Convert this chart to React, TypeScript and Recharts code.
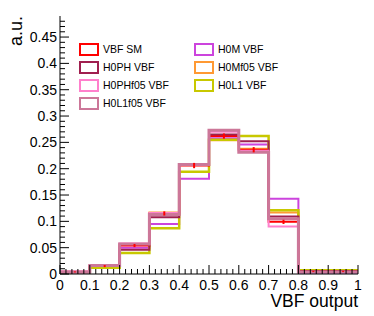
import {
  ComposedChart,
  ErrorBar,
  Line,
  Scatter,
  XAxis,
  YAxis,
} from "recharts";

const binEdges = [0, 0.1, 0.2, 0.3, 0.4, 0.5, 0.6, 0.7, 0.8, 0.9, 1.0];
const binCenters = [0.05, 0.15, 0.25, 0.35, 0.45, 0.55, 0.65, 0.75, 0.85, 0.95];

const vbfSM = [0.004, 0.015, 0.054, 0.115, 0.206, 0.262, 0.236, 0.099, 0.005, 0.005];
const vbfSMErr = [0.001, 0.002, 0.003, 0.004, 0.005, 0.005, 0.005, 0.004, 0.001, 0.001];
const h0ph = [0.004, 0.015, 0.046, 0.108, 0.207, 0.265, 0.252, 0.109, 0.005, 0.005];
const h0phf05 = [0.005, 0.017, 0.058, 0.116, 0.208, 0.27, 0.234, 0.09, 0.004, 0.004];
const h0l1f05 = [0.004, 0.016, 0.057, 0.113, 0.208, 0.273, 0.231, 0.105, 0.004, 0.004];
const h0m = [0.003, 0.014, 0.05, 0.095, 0.181, 0.258, 0.246, 0.143, 0.003, 0.003];
const h0mf05 = [0.004, 0.015, 0.055, 0.117, 0.207, 0.254, 0.238, 0.117, 0.005, 0.005];
const h0l1 = [0.004, 0.012, 0.04, 0.087, 0.194, 0.255, 0.262, 0.121, 0.007, 0.007];

const xTicks = Array.from({ length: 51 }, (_, i) => +(i * 0.02).toFixed(2));
const yTicks = Array.from({ length: 49 }, (_, i) => +(i * 0.01).toFixed(2));

// draw order: last one ends up on top
const series = [
  { key: "h0m", name: "H0M VBF", values: h0m, color: "#cc44dd", width: 2 },
  { key: "h0mf05", name: "H0Mf05 VBF", values: h0mf05, color: "#ff9933", width: 2 },
  { key: "h0l1", name: "H0L1 VBF", values: h0l1, color: "#c8c800", width: 2.5 },
  { key: "vbfSM", name: "VBF SM", values: vbfSM, color: "#ff0000", width: 2 },
  { key: "h0ph", name: "H0PH VBF", values: h0ph, color: "#a01f4f", width: 2 },
  { key: "h0phf05", name: "H0PHf05 VBF", values: h0phf05, color: "#ff80cc", width: 2 },
  { key: "h0l1f05", name: "H0L1f05 VBF", values: h0l1f05, color: "#cc7799", width: 3 },
];

const legendCols = [
  ["vbfSM", "h0ph", "h0phf05", "h0l1f05"],
  ["h0m", "h0mf05", "h0l1"],
];

const table = binEdges.map((x, i) => {
  const row: Record<string, number> = { x };
  series.forEach((s) => {
    row[s.key] = s.values[Math.min(i, s.values.length - 1)];
  });
  return row;
});

const errPoints = binCenters.map((x, i) => ({ x, y: vbfSM[i], err: vbfSMErr[i] }));

const FONT = '"Liberation Sans", Arial, Helvetica, sans-serif';

const fmt = (v: number) => String(+v.toFixed(2));

function makeTick(side: string, majorStep: number) {
  return (props: any) => {
    const { x, y, payload } = props;
    const v = payload.value;
    const r = v / majorStep;
    const major = Math.abs(r - Math.round(r)) < 1e-6;
    const len = major ? 9 : 5;
    if (side === "left") {
      return (
        <g>
          <line x1={x + 3} x2={x + 3 + len} y1={y} y2={y} stroke="#000" />
          {major && (
            <text x={x} y={y} dy="0.36em" textAnchor="end" fontSize={14} fontFamily={FONT} fill="#000">
              {fmt(v)}
            </text>
          )}
        </g>
      );
    }
    if (side === "bottom") {
      return (
        <g>
          <line x1={x} x2={x} y1={y - 6} y2={y - 6 - len} stroke="#000" />
          {major && (
            <text x={x} y={y} dy="0.7em" textAnchor="middle" fontSize={14} fontFamily={FONT} fill="#000">
              {fmt(v)}
            </text>
          )}
        </g>
      );
    }
    if (side === "top") {
      return <line x1={x} x2={x} y1={y} y2={y + len} stroke="#000" />;
    }
    return <line x1={x} x2={x - len} y1={y} y2={y} stroke="#000" />;
  };
}

export default function App() {
  const byKey: Record<string, (typeof series)[number]> = {};
  series.forEach((s) => (byKey[s.key] = s));

  return (
    <div style={{ position: "absolute", left: 0, top: 0, width: 374, height: 316, background: "#fff" }}>
      <ComposedChart
        width={374}
        height={316}
        data={table}
        margin={{ top: 16, right: 16, left: 0, bottom: 0 }}
      >
        <XAxis
          dataKey="x"
          type="number"
          domain={[0, 1]}
          ticks={xTicks}
          interval={0}
          tickSize={0}
          tickMargin={6}
          height={42}
          allowDataOverflow
          axisLine={{ stroke: "#000" }}
          tick={makeTick("bottom", 0.1)}
          label={({ viewBox }: any) => (
            <text
              x={viewBox.x + viewBox.width}
              y={viewBox.y + 33}
              textAnchor="end"
              fontSize={17.5}
              fontFamily={FONT}
              fill="#000"
            >
              VBF output
            </text>
          )}
        />
        <XAxis
          xAxisId="top"
          orientation="top"
          type="number"
          domain={[0, 1]}
          ticks={xTicks}
          interval={0}
          tickSize={0}
          tickMargin={0}
          height={0}
          allowDataOverflow
          axisLine={{ stroke: "#000" }}
          tick={makeTick("top", 0.1)}
        />
        <YAxis
          type="number"
          domain={[0, 0.49]}
          ticks={yTicks}
          interval={0}
          tickSize={0}
          tickMargin={3}
          width={60}
          allowDataOverflow
          axisLine={{ stroke: "#000" }}
          tick={makeTick("left", 0.05)}
          label={({ viewBox }: any) => (
            <text
              x={viewBox.x + 22}
              y={viewBox.y}
              transform={`rotate(-90 ${viewBox.x + 22} ${viewBox.y})`}
              textAnchor="end"
              fontSize={18}
              fontFamily={FONT}
              fill="#000"
            >
              a.u.
            </text>
          )}
        />
        <YAxis
          yAxisId="right"
          orientation="right"
          type="number"
          domain={[0, 0.49]}
          ticks={yTicks}
          interval={0}
          tickSize={0}
          tickMargin={0}
          width={0}
          allowDataOverflow
          axisLine={{ stroke: "#000" }}
          tick={makeTick("right", 0.05)}
        />
        {series.map((s) => (
          <Line
            key={s.key}
            type="stepAfter"
            dataKey={s.key}
            stroke={s.color}
            strokeWidth={s.width}
            dot={false}
            activeDot={false}
            isAnimationActive={false}
          />
        ))}
        <Scatter data={errPoints} dataKey="y" shape={() => <g />} isAnimationActive={false}>
          <ErrorBar dataKey="err" direction="y" width={0} stroke="#ff0000" strokeWidth={2} isAnimationActive={false} />
        </Scatter>
      </ComposedChart>
      <div
        style={{
          position: "absolute",
          left: 79,
          top: 40,
          display: "flex",
          gap: 18,
          fontFamily: FONT,
          fontSize: 10.5,
          color: "#000",
        }}
      >
        {legendCols.map((col, ci) => (
          <div key={ci} style={{ width: 97 }}>
            {col.map((k) => (
              <div key={k} style={{ display: "flex", alignItems: "center", height: 18 }}>
                <div
                  style={{
                    boxSizing: "border-box",
                    width: 20,
                    height: 13,
                    border: `2px solid ${byKey[k].color}`,
                    marginRight: 4,
                  }}
                />
                <span>{byKey[k].name}</span>
              </div>
            ))}
          </div>
        ))}
      </div>
    </div>
  );
}
